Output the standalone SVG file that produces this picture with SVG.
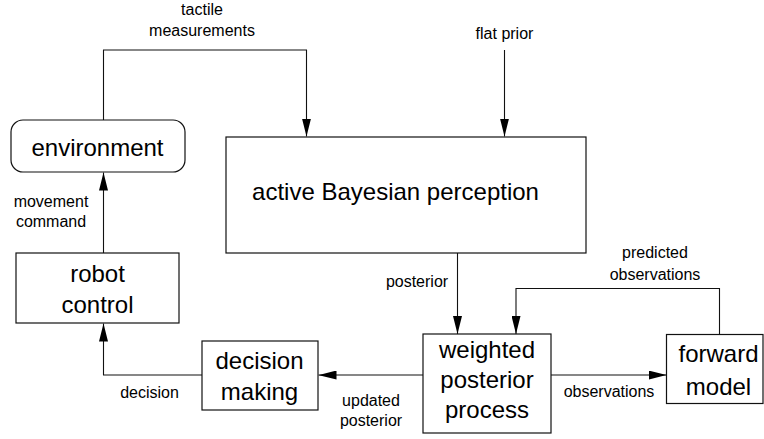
<svg xmlns="http://www.w3.org/2000/svg" width="764" height="439" viewBox="0 0 764 439">
<defs>
<marker id="ah" markerWidth="18" markerHeight="9" refX="18" refY="4.5" orient="auto" markerUnits="userSpaceOnUse">
<path d="M0,0 L18,4.5 L0,9 Z" fill="#000"/>
</marker>
<style>
.box{fill:#fff;stroke:#111;stroke-width:1.2}
.big{font-family:"Liberation Sans",Arial,sans-serif;font-size:24px;fill:#000;text-anchor:middle}
.lbl{font-family:"Liberation Sans",Arial,sans-serif;font-size:16px;fill:#000;text-anchor:middle}
.edge{fill:none;stroke:#111;stroke-width:1.1}
</style>
</defs>
<rect width="764" height="439" fill="#fff"/>
<g id="connectors">
<path class="edge" d="M103.5,120 V50 H306.5 V136.5" marker-end="url(#ah)"/>
<path class="edge" d="M504.5,50 V136.5" marker-end="url(#ah)"/>
<path class="edge" d="M103.5,253 V172.5" marker-end="url(#ah)"/>
<path class="edge" d="M202,375 H103.5 V323.5" marker-end="url(#ah)"/>
<path class="edge" d="M423,375 H318.5" marker-end="url(#ah)"/>
<path class="edge" d="M457.5,253 V334" marker-end="url(#ah)"/>
<path class="edge" d="M719.5,334.5 V288.5 H516 V334" marker-end="url(#ah)"/>
<path class="edge" d="M551,375 H666.5" marker-end="url(#ah)"/>
<text class="lbl" x="202" y="15">tactile</text>
<text class="lbl" x="202" y="36">measurements</text>
<text class="lbl" x="504.5" y="39">flat prior</text>
<text class="lbl" x="51" y="206.5">movement</text>
<text class="lbl" x="51" y="227">command</text>
<text class="lbl" x="149.5" y="398">decision</text>
<text class="lbl" x="371" y="406">updated</text>
<text class="lbl" x="371" y="425.5">posterior</text>
<text class="lbl" x="417" y="286.5">posterior</text>
<text class="lbl" x="655" y="258">predicted</text>
<text class="lbl" x="655" y="280">observations</text>
<text class="lbl" x="609" y="397">observations</text>
</g>
<g id="environment">
<rect class="box" x="11" y="120" width="174" height="52" rx="12" ry="12"/>
<text class="big" x="97.5" y="155.5">environment</text>
</g>
<g id="active-bayesian-perception">
<rect class="box" x="226" y="137" width="360" height="116"/>
<text class="big" x="395.5" y="200">active Bayesian perception</text>
</g>
<g id="robot-control">
<rect class="box" x="16" y="253" width="163" height="70"/>
<text class="big" x="97.5" y="282">robot</text>
<text class="big" x="97.5" y="312.5">control</text>
</g>
<g id="decision-making">
<rect class="box" x="202" y="341" width="116" height="69"/>
<text class="big" x="259.5" y="369">decision</text>
<text class="big" x="259.5" y="400">making</text>
</g>
<g id="weighted-posterior-process">
<rect class="box" x="423" y="334" width="128" height="99"/>
<text class="big" x="487" y="357.5">weighted</text>
<text class="big" x="487" y="388">posterior</text>
<text class="big" x="487" y="418">process</text>
</g>
<g id="forward-model">
<rect class="box" x="666.5" y="334.5" width="96.5" height="69"/>
<text class="big" x="718.5" y="361.5">forward</text>
<text class="big" x="718.5" y="395">model</text>
</g>
</svg>
